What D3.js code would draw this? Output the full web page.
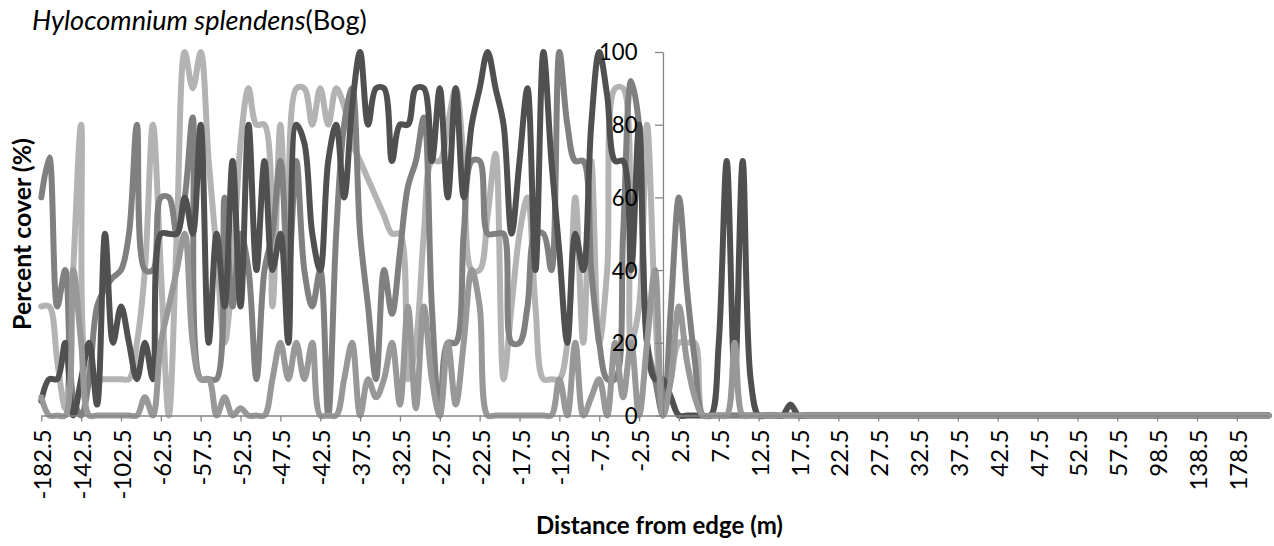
<!DOCTYPE html>
<html><head><meta charset="utf-8">
<script src="https://cdn.jsdelivr.net/npm/d3@7"></script>
<style>body{margin:0;background:#fff;overflow:hidden}</style>
</head><body>
<svg id="chart" width="1274" height="546"></svg>
<script>
// ---------- DATA ----------
const categories = [
  "-182.5","-174.5","-166.5","-158.5","-150.5","-142.5","-134.5","-126.5","-118.5","-110.5",
  "-102.5","-94.5","-86.5","-78.5","-70.5","-62.5",
  "-61.5","-60.5","-59.5","-58.5","-57.5","-56.5","-55.5","-54.5","-53.5","-52.5",
  "-51.5","-50.5","-49.5","-48.5","-47.5","-46.5","-45.5","-44.5","-43.5","-42.5",
  "-41.5","-40.5","-39.5","-38.5","-37.5","-36.5","-35.5","-34.5","-33.5","-32.5",
  "-31.5","-30.5","-29.5","-28.5","-27.5","-26.5","-25.5","-24.5","-23.5","-22.5",
  "-21.5","-20.5","-19.5","-18.5","-17.5","-16.5","-15.5","-14.5","-13.5","-12.5",
  "-11.5","-10.5","-9.5","-8.5","-7.5","-6.5","-5.5","-4.5","-3.5","-2.5",
  "-1.5","-0.5","0.5","1.5","2.5","3.5","4.5","5.5","6.5","7.5",
  "8.5","9.5","10.5","11.5","12.5","13.5","14.5","15.5","16.5","17.5",
  "18.5","19.5","20.5","21.5","22.5","23.5","24.5","25.5","26.5","27.5",
  "28.5","29.5","30.5","31.5","32.5","33.5","34.5","35.5","36.5","37.5",
  "38.5","39.5","40.5","41.5","42.5","43.5","44.5","45.5","46.5","47.5",
  "48.5","49.5","50.5","51.5","52.5","53.5","54.5","55.5","56.5","57.5",
  "65.5","73.5","81.5","89.5","98.5","106.5","114.5","122.5","130.5","138.5",
  "146.5","154.5","162.5","170.5","178.5","186.5","194.5","202.5","210.5"
];
const xTickLabels = ["-182.5","-142.5","-102.5","-62.5","-57.5","-52.5","-47.5","-42.5","-37.5",
  "-32.5","-27.5","-22.5","-17.5","-12.5","-7.5","-2.5","2.5","7.5","12.5","17.5","22.5",
  "27.5","32.5","37.5","42.5","47.5","52.5","57.5","98.5","138.5","178.5"];
const yTicks = [0, 20, 40, 60, 80, 100];
const yAxisCrossing = "0.5";

const seriesLight = [
  30,30,15,2,40,80,10,10,10,10,
  10,10,20,40,80,40,0,50,100,90,
  100,70,45,20,40,75,90,80,80,30,
  80,30,90,90,80,90,80,90,85,75,
  70,65,60,55,50,50,10,20,50,70,
  70,80,90,70,40,40,55,72,10,30,
  50,60,30,10,10,10,20,60,20,70,
  20,40,90,90,20,30,80,30,0,10,
  20,20,20,0,0,0,0,0,0,0,
  0,0,0,0,0,0,0,0,0,0,
  0,0,0,0,0,0,0,0,0,0,
  0,0,0,0,0,0,0,0,0,0,
  0,0,0,0,0,0,0,0,0,0,
  0,0,0,0,0,0,0,0,0,0,
  0,0,0,0,0,0,0,0,0,0,
  0,0,0,0,0
];
const seriesMedium = [
  60,71,30,40,5,0,10,30,35,38,
  40,50,80,40,40,60,60,50,60,82,
  10,10,10,60,30,50,40,10,40,50,
  70,40,70,40,30,40,0,50,80,90,
  50,30,10,40,28,45,63,70,82,30,
  0,20,20,50,70,70,50,50,50,20,
  20,30,50,50,40,100,80,70,70,40,
  20,10,10,50,92,80,20,10,0,30,
  60,35,15,0,0,0,0,0,0,0,
  0,0,0,0,0,0,0,0,0,0,
  0,0,0,0,0,0,0,0,0,0,
  0,0,0,0,0,0,0,0,0,0,
  0,0,0,0,0,0,0,0,0,0,
  0,0,0,0,0,0,0,0,0,0,
  0,0,0,0,0,0,0,0,0,0,
  0,0,0,0,0
];
const seriesDark = [
  4,10,10,20,0,10,20,3,50,20,
  30,20,10,20,10,50,50,50,60,50,
  80,20,50,30,70,30,80,40,70,40,
  50,20,80,75,50,40,70,80,60,85,
  100,80,90,90,70,80,80,90,90,70,
  90,60,90,60,80,90,100,90,80,50,
  70,90,40,100,70,45,20,50,40,80,
  100,88,70,70,40,80,20,10,10,5,
  0,0,0,0,0,20,70,10,70,10,
  0,0,0,0,3,0,0,0,0,0,
  0,0,0,0,0,0,0,0,0,0,
  0,0,0,0,0,0,0,0,0,0,
  0,0,0,0,0,0,0,0,0,0,
  0,0,0,0,0,0,0,0,0,0,
  0,0,0,0,0,0,0,0,0,0,
  0,0,0,0,0
];
const seriesGrey = [
  5,0,0,0,40,20,0,0,0,0,
  0,0,0,5,0,20,30,40,50,20,
  10,10,0,5,0,2,0,0,0,10,
  20,10,20,10,20,0,0,0,10,20,
  0,10,5,10,20,3,30,2,30,10,
  0,20,3,20,40,30,0,0,0,0,
  0,0,0,0,0,10,0,20,0,5,
  10,0,20,5,20,0,20,40,0,10,
  30,15,5,0,0,0,0,20,0,0,
  0,0,0,0,0,0,0,0,0,0,
  0,0,0,0,0,0,0,0,0,0,
  0,0,0,0,0,0,0,0,0,0,
  0,0,0,0,0,0,0,0,0,0,
  0,0,0,0,0,0,0,0,0,0,
  0,0,0,0,0,0,0,0,0,0,
  0,0,0,0,0
];
const seriesList = [
  {name: "light", values: seriesLight, color: "#b3b3b3"},
  {name: "medium", values: seriesMedium, color: "#808080"},
  {name: "dark", values: seriesDark, color: "#505050"},
  {name: "grey", values: seriesGrey, color: "#989898"}
];

// ---------- CHART ----------
const FONT = "Lato, 'Open Sans', sans-serif";
const svg = d3.select("#chart");
const x = d3.scalePoint().domain(categories).range([41.3, 1268.7]);
const y = d3.scaleLinear().domain([0, 100]).range([415.5, 52]);
const axisColor = "#868686";

function fit(sel, target) {
  const w = sel.node().getComputedTextLength();
  const fs = parseFloat(sel.style("font-size"));
  const nfs = fs * target / w;
  sel.style("font-size", nfs + "px");
  return nfs;
}

// lines
const line = d3.line()
  .x((d, i) => x(categories[i]))
  .y(d => y(d))
  .curve(d3.curveCatmullRom.alpha(0.5));

svg.append("g").selectAll("path").data(seriesList).join("path")
  .attr("d", s => line(s.values))
  .attr("fill", "none")
  .attr("stroke", s => s.color)
  .attr("stroke-width", 6)
  .attr("stroke-linejoin", "round")
  .attr("stroke-linecap", "round");

// x axis
const gx = svg.append("g").attr("transform", `translate(0,${y(0)})`)
  .call(d3.axisBottom(x).tickValues(xTickLabels).tickSize(6).tickSizeOuter(0));
gx.select(".domain").attr("stroke", axisColor).attr("stroke-width", 1.3);
gx.selectAll(".tick line").attr("stroke", axisColor).attr("stroke-width", 1.3);
const xt = gx.selectAll(".tick text")
  .attr("transform", "rotate(-90)")
  .attr("x", -14).attr("y", 0).attr("dy", "0.4em")
  .style("text-anchor", "end")
  .attr("fill", "#000")
  .style("font-family", FONT).style("font-size", "20px");
{
  const probe = gx.selectAll(".tick text").filter(d => d === "-182.5");
  const fs = fit(probe, 70);
  xt.style("font-size", fs + "px");
}

// y axis
const gy = svg.append("g").attr("transform", `translate(${x(yAxisCrossing)},0)`)
  .call(d3.axisLeft(y).tickValues(yTicks).tickSize(8).tickSizeOuter(0));
gy.select(".domain").attr("stroke", axisColor).attr("stroke-width", 1.3);
gy.selectAll(".tick line").attr("stroke", axisColor).attr("stroke-width", 1.3);
const yt = gy.selectAll(".tick text")
  .attr("x", -25.5).attr("dy", "0.36em")
  .attr("fill", "#000")
  .style("font-family", FONT).style("font-size", "20px");
{
  const probe = gy.selectAll(".tick text").filter(d => d === 100);
  const fs = fit(probe, 38.5);
  yt.style("font-size", fs + "px");
}

// title
const title = svg.append("text").attr("x", 32).attr("y", 30)
  .style("font-family", FONT).style("font-size", "24px").attr("fill", "#000");
title.append("tspan").style("font-style", "italic").text("Hylocomnium splendens");
title.append("tspan").text("(Bog)");
fit(title, 335);

// y axis title
const yTitle = svg.append("text")
  .attr("transform", "translate(31,234) rotate(-90)")
  .attr("text-anchor", "middle")
  .style("font-family", FONT).style("font-weight", "bold").style("font-size", "22px")
  .attr("fill", "#000")
  .text("Percent cover (%)");
fit(yTitle, 192);

// x axis title
const xTitle = svg.append("text")
  .attr("x", 659.5).attr("y", 534)
  .attr("text-anchor", "middle")
  .style("font-family", FONT).style("font-weight", "bold").style("font-size", "22px")
  .attr("fill", "#000")
  .text("Distance from edge (m)");
fit(xTitle, 247);
</script>
</body></html>
